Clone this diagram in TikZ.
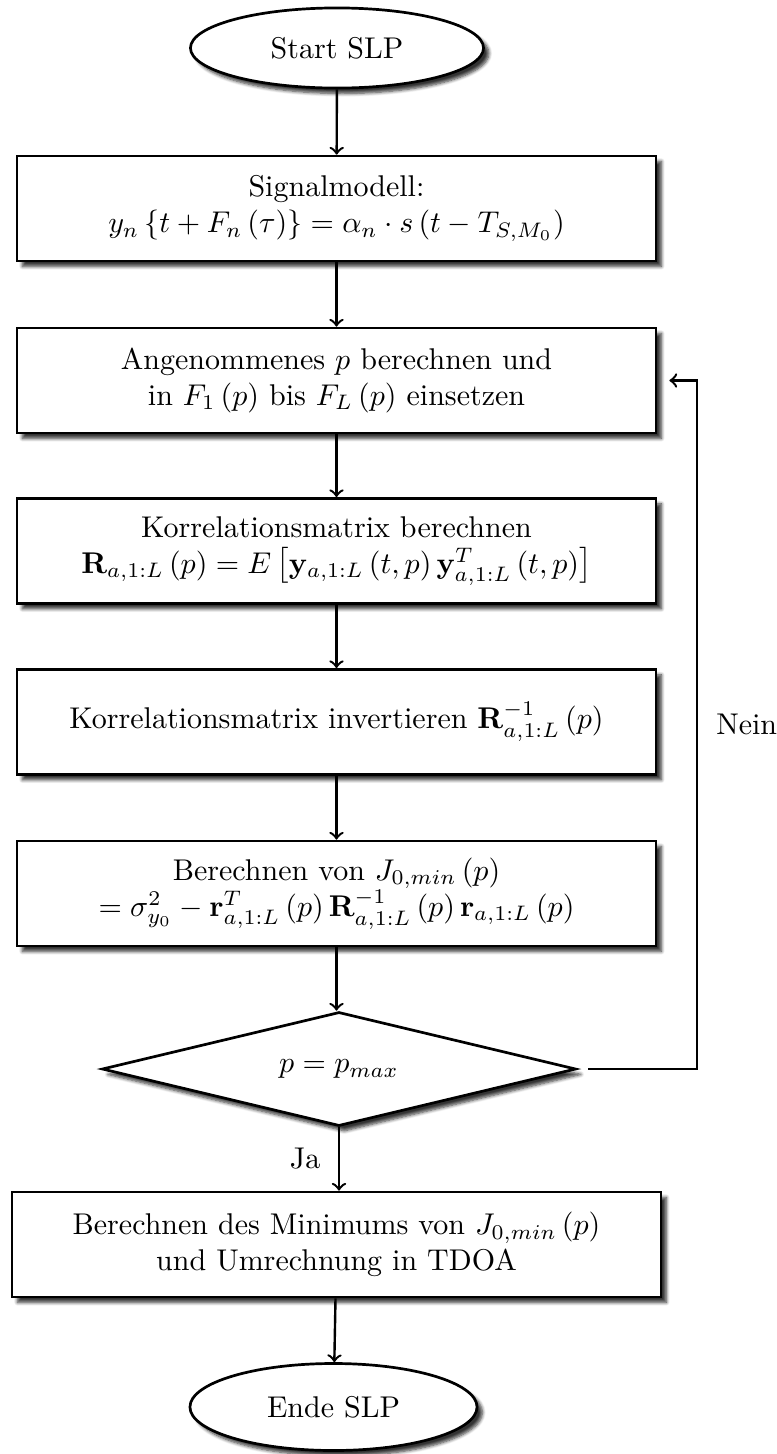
\documentclass[tikz,border=0pt]{standalone}
\usetikzlibrary{shapes.geometric,shadows.blur}

\tikzset{
  shade/.style={blur shadow={shadow xshift=1.8pt, shadow yshift=-1.8pt,
      shadow blur radius=1.1pt, shadow blur steps=6, shadow opacity=80}},
  procbox/.style={draw, line width=0.9pt, fill=white, shade, rectangle, align=center,
      minimum width=213pt, minimum height=35pt, inner sep=3pt},
  terminal/.style={draw, line width=0.9pt, fill=white, shade, ellipse, align=center},
  decision/.style={draw, line width=0.9pt, fill=white, shade, diamond, aspect=4.2,
      minimum width=158pt, minimum height=38pt, inner sep=1pt},
  flow/.style={thick, ->},
}

\begin{document}
\begin{tikzpicture}[x=0.33333pt, y=-0.33333pt]
\useasboundingbox (0,0) rectangle (776,1454);

\node[terminal, minimum width=97.7pt, minimum height=26.7pt] (start) at (337,48) {Start SLP};

\node[procbox] (model) at (336.5,208.5)
  {Signalmodell:\\ $y_n\left\{t+F_n\left(\tau\right)\right\}=\alpha_n\cdot s\left(t-T_{S,M_0}\right)$};

\node[procbox] (guess) at (336.5,380.5)
  {Angenommenes $p$ berechnen und\\ in $F_1\left(p\right)$ bis $F_L\left(p\right)$ einsetzen};

\node[procbox] (corr) at (336.5,551)
  {Korrelationsmatrix berechnen\\ $\mathbf{R}_{a,1:L}\left(p\right)=E\left[\mathbf{y}_{a,1:L}\left(t,p\right)\mathbf{y}_{a,1:L}^T\left(t,p\right)\right]$};

\node[procbox] (inv) at (336.5,722)
  {Korrelationsmatrix invertieren $\mathbf{R}_{a,1:L}^{-1}\left(p\right)$};

\node[procbox] (cost) at (336.5,893.5)
  {Berechnen von $J_{0,min}\left(p\right)$\\ $=\sigma_{y_0}^2-\mathbf{r}_{a,1:L}^T\left(p\right)\mathbf{R}_{a,1:L}^{-1}\left(p\right)\mathbf{r}_{a,1:L}\left(p\right)$};

\node[decision] (dec) at (339,1069) {$p=p_{max}$};

\node[procbox, minimum width=216.3pt] (minimum) at (336.5,1244.5)
  {Berechnen des Minimums von $J_{0,min}\left(p\right)$\\ und Umrechnung in TDOA};

\node[terminal, minimum width=95.7pt, minimum height=29pt] (stop) at (333.5,1407) {Ende SLP};

% main flow
\draw[flow] (start) -- (model);
\draw[flow] (model) -- (guess);
\draw[flow] (guess) -- (corr);
\draw[flow] (corr) -- (inv);
\draw[flow] (inv) -- (cost);
\draw[flow] (cost.south) -- (cost.south |- dec.north);
\draw[flow] (dec.south) -- node[left=2.5pt] {Ja} (dec.south |- minimum.north);
\draw[flow] (minimum) -- (stop);

% loop back for the next p
\coordinate (loopcorner) at (697,1069);
\draw[flow, shorten <=3.7pt, shorten >=4pt] (dec.east) -- (loopcorner)
  |- node[pos=0.25, right=2.7pt] {Nein} (guess.east);
\end{tikzpicture}
\end{document}
